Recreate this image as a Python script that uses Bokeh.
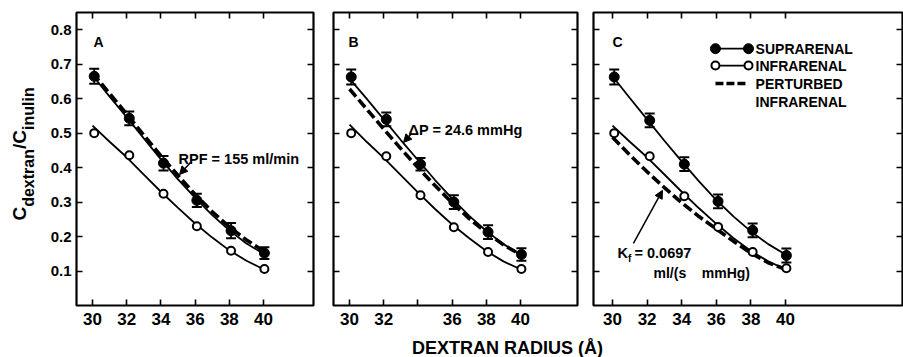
from math import pi
from bokeh.plotting import figure
from bokeh.models import (Range1d, LinearAxis, FixedTicker, Whisker, TeeHead,
                          ColumnDataSource, Label, Arrow, NormalHead)
from bokeh.layouts import row, column
from bokeh.embed import file_html
from bokeh.resources import INLINE

# ---------------- data ----------------
radius_ticks = [30, 32, 34, 36, 38, 40]
ratio_ticks = [0.1, 0.2, 0.3, 0.4, 0.5, 0.6, 0.7, 0.8]
point_radius = [30.1, 32.15, 34.15, 36.1, 38.1, 40.05]
fit_radius = [30, 31, 32, 33, 34, 35, 36, 37, 38, 39, 40]

# Panel A (RPF = 155 ml/min)
supra_A = [0.665, 0.543, 0.413, 0.305, 0.217, 0.152]
sem_A = [0.022, 0.020, 0.021, 0.019, 0.022, 0.017]
infra_A = [0.500, 0.436, 0.324, 0.230, 0.159, 0.106]
fit_supra_A = [0.668, 0.606, 0.546, 0.485, 0.424, 0.366, 0.312, 0.262, 0.218, 0.180, 0.150]
fit_infra_A = [0.522, 0.475, 0.430, 0.380, 0.330, 0.283, 0.238, 0.197, 0.160, 0.130, 0.105]
fit_pert_A = [0.675, 0.615, 0.555, 0.494, 0.434, 0.377, 0.322, 0.272, 0.228, 0.190, 0.158]

# Panel B (delta P = 24.6 mmHg)
supra_B = [0.663, 0.540, 0.410, 0.300, 0.213, 0.148]
sem_B = [0.022, 0.020, 0.018, 0.020, 0.020, 0.018]
infra_B = [0.500, 0.433, 0.320, 0.227, 0.155, 0.106]
fit_supra_B = [0.658, 0.600, 0.540, 0.480, 0.422, 0.364, 0.310, 0.260, 0.216, 0.178, 0.148]
fit_infra_B = [0.525, 0.475, 0.428, 0.378, 0.328, 0.280, 0.235, 0.195, 0.158, 0.128, 0.105]
fit_pert_B = [0.628, 0.570, 0.512, 0.455, 0.400, 0.348, 0.298, 0.252, 0.212, 0.176, 0.147]

# Panel C (Kf = 0.0697 ml/(s mmHg))
supra_C = [0.663, 0.537, 0.410, 0.302, 0.218, 0.145]
sem_C = [0.022, 0.020, 0.020, 0.020, 0.020, 0.020]
infra_C = [0.500, 0.433, 0.317, 0.228, 0.155, 0.108]
fit_supra_C = [0.665, 0.602, 0.540, 0.478, 0.418, 0.360, 0.306, 0.258, 0.215, 0.178, 0.148]
fit_infra_C = [0.522, 0.475, 0.430, 0.380, 0.330, 0.282, 0.237, 0.195, 0.158, 0.128, 0.105]
fit_pert_C = [0.488, 0.437, 0.388, 0.342, 0.298, 0.258, 0.222, 0.186, 0.152, 0.124, 0.105]

FONT = "Liberation Sans"
PANEL_H = 333
FRAME_H = 293
TOP = 12
BOTTOM = PANEL_H - TOP - FRAME_H
STRIP_W = 44
STRIP_H = 24


def make_panel(x_start, x_end, frame_w, b_left, b_right, ylabels, x_overrides,
               supra, sem, infra, f_supra, f_infra, f_pert):
    p = figure(width=b_left + frame_w + b_right, height=PANEL_H,
               x_range=Range1d(x_start, x_end), y_range=Range1d(0, 0.85),
               output_backend="svg", toolbar_location=None,
               min_border_left=b_left, min_border_right=b_right,
               min_border_top=TOP, min_border_bottom=BOTTOM)
    p.grid.visible = False
    p.outline_line_color = "black"
    p.outline_line_width = 2.2
    p.background_fill_color = "white"
    p.border_fill_color = "white"

    xa = p.xaxis[0]
    xa.ticker = FixedTicker(ticks=radius_ticks)
    ya = p.yaxis[0]
    ya.ticker = FixedTicker(ticks=ratio_ticks)
    for ax in (xa, ya):
        ax.major_tick_in = 6
        ax.major_tick_out = 0
        ax.major_tick_line_width = 1.6
        ax.minor_tick_line_color = None
        ax.axis_line_color = None
        ax.major_label_text_font = FONT
        ax.major_label_text_font_style = "bold"
        ax.major_label_text_color = "black"
    xa.major_label_text_font_size = "17px"
    xa.major_label_standoff = 7
    xa.major_label_overrides = x_overrides
    ya.major_label_text_font_size = "15px"
    ya.major_label_standoff = 5
    if not ylabels:
        ya.major_label_overrides = {t: "" for t in ratio_ticks}
        ya.major_label_standoff = 0

    top_ax = LinearAxis(ticker=FixedTicker(ticks=radius_ticks))
    right_ax = LinearAxis(ticker=FixedTicker(ticks=ratio_ticks))
    top_ax.major_label_overrides = {t: "" for t in radius_ticks}
    right_ax.major_label_overrides = {t: "" for t in ratio_ticks}
    for ax in (top_ax, right_ax):
        ax.major_tick_in = 6
        ax.major_tick_out = 0
        ax.major_tick_line_width = 1.6
        ax.minor_tick_line_color = None
        ax.axis_line_color = None
        ax.major_label_standoff = 0
        ax.major_label_text_font_size = "1px"
    p.add_layout(top_ax, "above")
    p.add_layout(right_ax, "right")

    # fitted curves
    p.line(fit_radius, f_infra, line_color="black", line_width=1.8)
    p.line(fit_radius, f_supra, line_color="black", line_width=1.8)
    p.line(fit_radius, f_pert, line_color="black", line_width=3.6, line_dash="10 4")

    # error bars
    src = ColumnDataSource(dict(
        x=point_radius, y=supra,
        lo=[v - e for v, e in zip(supra, sem)],
        hi=[v + e for v, e in zip(supra, sem)]))
    p.add_layout(Whisker(source=src, base="x", upper="hi", lower="lo",
                         line_width=1.8, line_color="black",
                         upper_head=TeeHead(size=10, line_width=2, line_color="black"),
                         lower_head=TeeHead(size=10, line_width=2, line_color="black")))
    p.scatter(point_radius, supra, size=10, marker="circle",
              fill_color="black", line_color="black")
    p.scatter(point_radius, infra, size=8, marker="circle",
              fill_color="white", line_color="black", line_width=2)
    return p


def lab(p, x, y, text, size="14px", align="left", baseline="alphabetic", angle=0):
    p.add_layout(Label(x=x, y=y, text=text, text_font=FONT, text_font_style="bold",
                       text_font_size=size, text_align=align, text_baseline=baseline,
                       text_color="black", angle=angle))


def arrow(p, x0, y0, x1, y1):
    p.add_layout(Arrow(end=NormalHead(size=8, fill_color="black", line_color="black"),
                       x_start=x0, y_start=y0, x_end=x1, y_end=y1,
                       line_width=1.5, line_color="black"))


def strip(w, h, b_top=0, b_bottom=0):
    s = figure(width=w, height=h, x_range=Range1d(0, w),
               y_range=Range1d(b_bottom, h - b_top),
               output_backend="svg", toolbar_location=None,
               x_axis_location=None, y_axis_location=None,
               min_border_left=0, min_border_right=0,
               min_border_top=b_top, min_border_bottom=b_bottom)
    s.grid.visible = False
    s.outline_line_color = None
    s.background_fill_color = "white"
    s.border_fill_color = "white"
    return s


# ---------------- panels ----------------
pA = make_panel(29.064, 42.92, 237, 76 - STRIP_W, 9, True, {},
                supra_A, sem_A, infra_A, fit_supra_A, fit_infra_A, fit_pert_A)
pB = make_panel(29.064, 43.33, 244, 11, 13, False, {34: ""},
                supra_B, sem_B, infra_B, fit_supra_B, fit_infra_B, fit_pert_B)
pC = make_panel(28.902, 46.76, 309, 3, 1, False, {},
                supra_C, sem_C, infra_C, fit_supra_C, fit_infra_C, fit_pert_C)

# panel letters
lab(pA, 30.06, 0.763, "A")
lab(pB, 29.94, 0.763, "B")
lab(pC, 30.0, 0.763, "C")

# annotations
lab(pA, 35.03, 0.426, "RPF = 155 ml/min", size="14.5px")
arrow(pA, 35.73, 0.415, 35.09, 0.380)
lab(pB, 33.45, 0.508, "\u0394P = 24.6 mmHg", size="14.5px")
arrow(pB, 33.63, 0.499, 33.16, 0.473)
lab(pC, 30.29, 0.151, "K", size="14.5px")
lab(pC, 30.90, 0.136, "f", size="10px")
lab(pC, 31.27, 0.151, "= 0.0697", size="14.5px")
lab(pC, 32.37, 0.093, "ml/(s\u00a0\u00a0\u00a0\u00a0mmHg)")
arrow(pC, 31.21, 0.180, 32.89, 0.334)

# legend (panel C)
kx0, kx1, ktx = 35.95, 37.86, 38.27
ky = [0.745, 0.696, 0.644, 0.589]
pC.line([kx0, kx1], [ky[0], ky[0]], line_color="black", line_width=1.8)
pC.scatter([kx0, kx1], [ky[0], ky[0]], size=10, fill_color="black", line_color="black")
pC.line([kx0, kx1], [ky[1], ky[1]], line_color="black", line_width=1.8)
pC.scatter([kx0, kx1], [ky[1], ky[1]], size=8, fill_color="white", line_color="black", line_width=2)
pC.line([kx0, kx1], [ky[2], ky[2]], line_color="black", line_width=3.6, line_dash="8 3")
lab(pC, ktx, ky[0], "SUPRARENAL", baseline="middle")
lab(pC, ktx, ky[1], "INFRARENAL", baseline="middle")
lab(pC, ktx, ky[2], "PERTURBED", baseline="middle")
lab(pC, ktx, ky[3], "INFRARENAL", baseline="middle")

# y-axis title strip (rotated, with subscripts); y = canvas pixels from the bottom
sL = strip(STRIP_W, PANEL_H, TOP, BOTTOM)
lab(sL, 19, 113.0, "C", size="19px", angle=pi / 2)
lab(sL, 28, 126.7, "dextran", size="16px", angle=pi / 2)
lab(sL, 19, 184.5, "/", size="19px", angle=pi / 2)
lab(sL, 19, 189.8, "C", size="19px", angle=pi / 2)
lab(sL, 28, 203.5, "inulin", size="16px", angle=pi / 2)

# x-axis title strip
sB = strip(903, STRIP_H)
lab(sB, 507, 10, "DEXTRAN RADIUS (\u00c5)", size="18px", align="center")

layout = column(row(sL, pA, pB, pC), sB)
open("out.html", "w").write(file_html(layout, INLINE))
